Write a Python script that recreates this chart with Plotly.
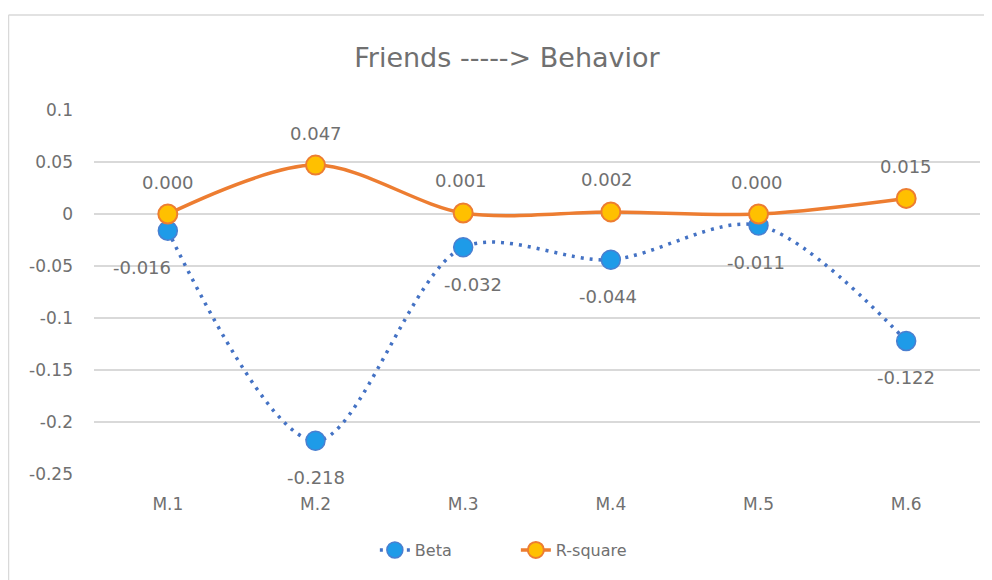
import plotly.graph_objects as go

models = ["M.1", "M.2", "M.3", "M.4", "M.5", "M.6"]
beta = [-0.016, -0.218, -0.032, -0.044, -0.011, -0.122]
r_square = [0.000, 0.047, 0.001, 0.002, 0.000, 0.015]
y_ticks = [0.1, 0.05, 0, -0.05, -0.1, -0.15, -0.2, -0.25]
y_tick_text = ["0.1", "0.05", "0", "-0.05", "-0.1", "-0.15", "-0.2", "-0.25"]

FONT = "DejaVu Sans, Open Sans, sans-serif"
GRAY = "#707070"
GRID = "#D9D9D9"

# label offsets (px) copied from the excel layout
beta_xshift = [-26, 0, 10, -3, -3, 0]
rsq_xshift = [0, 0, -2, -4, -2, 0]

fig = go.Figure()

fig.add_trace(
    go.Scatter(
        x=models,
        y=beta,
        mode="lines+markers",
        name="Beta",
        line=dict(color="#4472C4", width=3.5, dash="3px,6px", shape="spline", smoothing=0.9),
        marker=dict(size=19, color="#1E9BE8", line=dict(color="#4A7FD0", width=1.5)),
    )
)
fig.add_trace(
    go.Scatter(
        x=models,
        y=r_square,
        mode="lines+markers",
        name="R-square",
        line=dict(color="#ED7D31", width=3.5, shape="spline", smoothing=0.9),
        marker=dict(size=19, color="#FFC000", line=dict(color="#ED7D31", width=2)),
    )
)

annotations = []
for i, m in enumerate(models):
    annotations.append(
        dict(
            x=m, y=beta[i], text=f"{beta[i]:.3f}", showarrow=False,
            xshift=beta_xshift[i], yshift=-37,
            font=dict(family=FONT, size=18, color=GRAY),
        )
    )
    annotations.append(
        dict(
            x=m, y=r_square[i], text=f"{r_square[i]:.3f}", showarrow=False,
            xshift=rsq_xshift[i], yshift=32,
            font=dict(family=FONT, size=18, color=GRAY),
        )
    )

fig.update_layout(
    width=992,
    height=580,
    margin=dict(l=86, r=20, t=102, b=114),
    paper_bgcolor="white",
    plot_bgcolor="white",
    title=dict(
        text="Friends -----> Behavior",
        x=0.503, xanchor="center", y=0.914, yanchor="middle",
        font=dict(family=FONT, size=27, color=GRAY),
    ),
    showlegend=True,
    legend=dict(
        orientation="h", x=0.317, xanchor="left", y=-0.209, yanchor="middle",
        entrywidth=96, entrywidthmode="pixels",
        font=dict(family=FONT, size=16, color=GRAY),
    ),
    annotations=annotations,
    shapes=[
        dict(type="line", xref="paper", yref="paper", x0=-0.0965, x1=1.03, y0=1.261, y1=1.261,
             line=dict(color=GRID, width=1.5)),
        dict(type="line", xref="paper", yref="paper", x0=-0.0965, x1=-0.0965, y0=1.261, y1=-0.4,
             line=dict(color=GRID, width=1.5)),
    ],
)

fig.update_xaxes(
    range=[-0.5, 5.5],
    showgrid=False,
    showline=False,
    zeroline=False,
    ticks="",
    ticklabelstandoff=18,
    tickfont=dict(family=FONT, size=17, color=GRAY),
)
fig.update_yaxes(
    range=[-0.25, 0.1],
    tickvals=y_ticks,
    ticktext=y_tick_text,
    showgrid=True,
    gridcolor=GRID,
    gridwidth=1.5,
    zeroline=False,
    showline=False,
    ticks="",
    ticklabelstandoff=20,
    tickfont=dict(family=FONT, size=17, color=GRAY),
)

fig.write_html("out.html")
